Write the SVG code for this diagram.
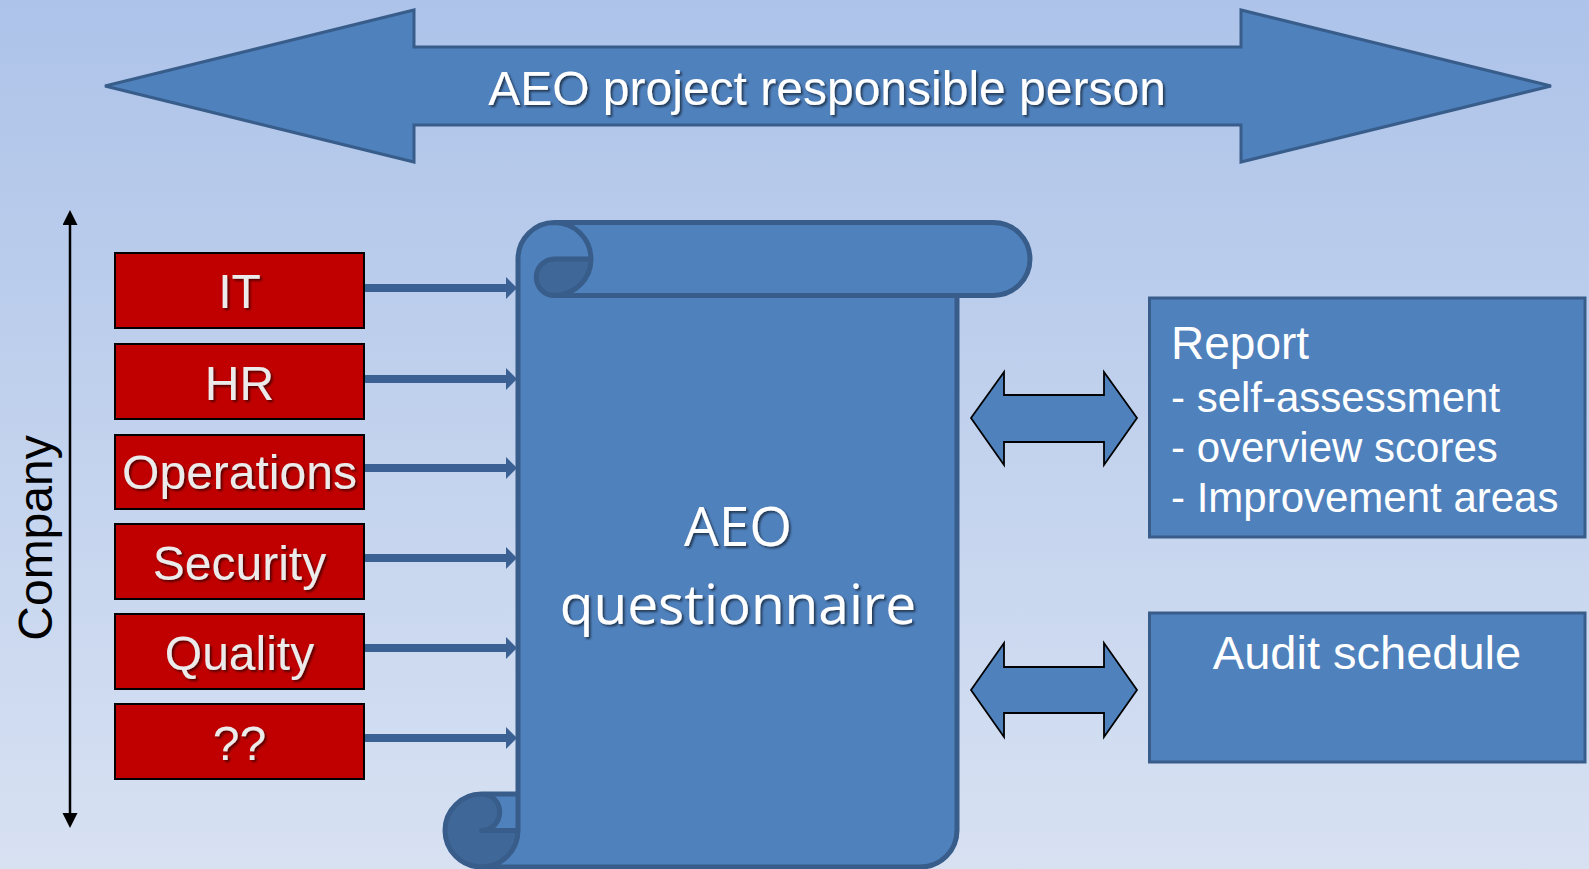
<svg xmlns="http://www.w3.org/2000/svg" width="1589" height="869" viewBox="0 0 1589 869">
<defs>
<linearGradient id="bg" x1="0" y1="0" x2="0" y2="1">
<stop offset="0" stop-color="#ADC3E9"/>
<stop offset="1" stop-color="#D7E1F2"/>
</linearGradient>
<filter id="sh" x="-10%" y="-30%" width="120%" height="160%">
<feDropShadow dx="2" dy="2" stdDeviation="1.2" flood-color="#000" flood-opacity="0.55"/>
</filter>
<marker id="conn" markerUnits="userSpaceOnUse" markerWidth="12" markerHeight="22" refX="1" refY="11" orient="auto">
<path d="M0,0 L11,11 L0,22 Z" fill="#3B6194"/>
</marker>
<marker id="blk" markerUnits="userSpaceOnUse" markerWidth="16" markerHeight="16" refX="1" refY="7.5" orient="auto-start-reverse">
<path d="M0,0 L15,7.5 L0,15 Z" fill="#000"/>
</marker>
<style>
.sans{font-family:"Liberation Sans",Arial,sans-serif}
.red rect{fill:#C00000;stroke:#000;stroke-width:2}
.red text{font-family:"Liberation Sans",Arial,sans-serif;font-size:48px;fill:#EBEBEB;text-anchor:middle;filter:url(#sh)}
.blue{fill:#4F81BD;stroke:#385D8A;stroke-width:3}
.dbl{fill:#4F81BD;stroke:#000;stroke-width:1.8;stroke-linejoin:miter}
.conn line{stroke:#3B6194;stroke-width:8}
.wt{fill:#fff}
</style>
</defs>
<rect width="1589" height="869" fill="url(#bg)"/>

<g id="top-arrow">
<polygon class="blue" points="105,86 414,10 414,47 1241,47 1241,10 1551,86 1241,162 1241,125 414,125 414,162"/>
<text class="sans wt" x="827" y="105" font-size="48" text-anchor="middle" filter="url(#sh)">AEO project responsible person</text>
</g>

<g id="company-axis">
<line x1="70" y1="224" x2="70" y2="814" stroke="#000" stroke-width="2.5" marker-start="url(#blk)" marker-end="url(#blk)"/>
<text class="sans" transform="translate(52,538) rotate(-90)" font-size="48" text-anchor="middle" fill="#000">Company</text>
</g>

<g id="box-it" class="red"><rect x="115" y="253" width="249" height="75"/><text x="239.5" y="308">IT</text></g>
<g id="box-hr" class="red"><rect x="115" y="344" width="249" height="75"/><text x="239.5" y="400">HR</text></g>
<g id="box-operations" class="red"><rect x="115" y="435" width="249" height="74"/><text x="239.5" y="489">Operations</text></g>
<g id="box-security" class="red"><rect x="115" y="524" width="249" height="75"/><text x="239.5" y="580">Security</text></g>
<g id="box-quality" class="red"><rect x="115" y="614" width="249" height="75"/><text x="239.5" y="670">Quality</text></g>
<g id="box-unknown" class="red"><rect x="115" y="704" width="249" height="75"/><text x="239.5" y="760">??</text></g>

<g id="connectors" class="conn">
<line x1="365" y1="288" x2="507" y2="288" marker-end="url(#conn)"/>
<line x1="365" y1="379" x2="507" y2="379" marker-end="url(#conn)"/>
<line x1="365" y1="468" x2="507" y2="468" marker-end="url(#conn)"/>
<line x1="365" y1="558" x2="507" y2="558" marker-end="url(#conn)"/>
<line x1="365" y1="648" x2="507" y2="648" marker-end="url(#conn)"/>
<line x1="365" y1="738" x2="507" y2="738" marker-end="url(#conn)"/>
<polygon class="dbl" points="971,418 1004,372 1004,395 1104,395 1104,372 1137,418 1104,465 1104,442 1004,442 1004,465"/>
<polygon class="dbl" points="971,690 1004,643 1004,667 1104,667 1104,643 1137,690 1104,737 1104,713 1004,713 1004,737"/>
</g>

<g id="questionnaire">
<path fill="#4F81BD" d="M481.5,867 L920.5,867 A36.5,36.5 0 0 0 957,830.5 L957,295.5 L993.5,295.5 A36.5,36.5 0 0 0 993.5,222.5 L554.5,222.5 A36.5,36.5 0 0 0 518,259 L518,794 L481.5,794 Z"/>
<path fill="#3F6797" d="M518,830.5 A36.5,36.5 0 1 1 481.5,794 A18.25,18.25 0 0 1 481.5,830.5 Z"/>
<path fill="#3F6797" d="M591,259 A36.5,36.5 0 0 1 554.5,295.5 A18.25,18.25 0 0 1 554.5,259 Z"/>
<path fill="none" stroke="#385D8A" stroke-width="5" stroke-linejoin="round" d="M518,794 L518,259 A36.5,36.5 0 0 1 554.5,222.5 L993.5,222.5 A36.5,36.5 0 0 1 993.5,295.5 L957,295.5 L957,830.5 A36.5,36.5 0 0 1 920.5,867 L481.5,867 A36.5,36.5 0 0 1 481.5,794 Z M554.5,222.5 A36.5,36.5 0 0 1 554.5,295.5 A18.25,18.25 0 0 1 554.5,259 L591,259 M957,295.5 L554.5,295.5 M481.5,794 A18.25,18.25 0 0 1 481.5,830.5 L518,830.5 M481.5,867 A36.5,36.5 0 0 0 518,830.5 L518,794"/>
<text x="738" y="546" font-family="'Open Sans','Noto Sans',sans-serif" font-size="55" text-anchor="middle" class="wt" filter="url(#sh)">AEO</text>
<text x="738" y="624" font-family="'Open Sans','Noto Sans',sans-serif" font-size="55" text-anchor="middle" class="wt" filter="url(#sh)">questionnaire</text>
</g>

<g id="report">
<rect class="blue" x="1149.5" y="298" width="435.5" height="239"/>
<text class="sans wt" x="1171" y="359" font-size="46">Report</text>
<text class="sans wt" x="1171" y="412" font-size="42">- self-assessment</text>
<text class="sans wt" x="1171" y="462" font-size="42">- overview scores</text>
<text class="sans wt" x="1171" y="512" font-size="42">- Improvement areas</text>
</g>

<g id="audit">
<rect class="blue" x="1149.5" y="613" width="435.5" height="149"/>
<text class="sans wt" x="1367" y="669" font-size="47" text-anchor="middle">Audit schedule</text>
</g>
</svg>
